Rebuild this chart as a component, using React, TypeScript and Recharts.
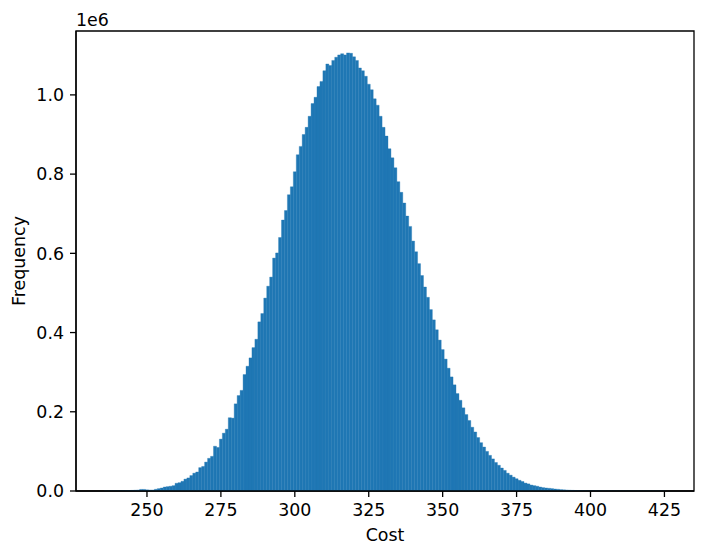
import { BarChart, Bar, XAxis, YAxis, Label, ReferenceArea } from 'recharts';

// histogram bins are 1 unit wide, centred on integer costs 236..425
const firstBin = 236;
const frequencies = [
    100, 150, 200, 300, 400, 550, 700, 900, 1200, 1500, // 236
    2000, 2500, 4000, 4000, 3000, 2500, 2500, 4300, 6000, 7600, // 246
    10000, 11000, 12000, 13500, 19500, 21000, 24500, 30000, 33000, 39000, // 256
    45000, 48000, 59000, 62000, 73000, 82500, 87500, 113000, 110000, 131000, // 266
    146000, 156000, 185000, 184000, 220000, 241000, 254000, 294000, 315000, 336000, // 276
    362000, 383000, 427000, 448000, 487000, 517000, 540000, 588000, 601000, 640000, // 286
    684000, 708000, 748000, 768000, 806000, 849000, 870000, 900000, 918000, 946000, // 296
    978000, 994000, 1021000, 1034000, 1061000, 1078000, 1074000, 1087000, 1095000, 1101000, // 306
    1104000, 1101000, 1106000, 1105000, 1096000, 1087000, 1068000, 1061000, 1047000, 1027000, // 316
    1013000, 990000, 974000, 946000, 918000, 896000, 864000, 841000, 816000, 781000, // 326
    754000, 727000, 694000, 668000, 631000, 604000, 574000, 544000, 515000, 489000, // 336
    458000, 432000, 407000, 381000, 357000, 333000, 310000, 288000, 268000, 246000, // 346
    229000, 210000, 193000, 178000, 161000, 149000, 135000, 122000, 111000, 100000, // 356
    90000, 81000, 72000, 65000, 58000, 52000, 45000, 40000, 35000, 31000, // 366
    27000, 24000, 20000, 18000, 15000, 13500, 12000, 10000, 8500, 7600, // 376
    6800, 6000, 5000, 4300, 3500, 3000, 2500, 2000, 1600, 1300, // 386
    1000, 800, 600, 500, 400, 300, 250, 200, 150, 120, // 396
    100, 80, 60, 50, 40, 30, 25, 20, 15, 12, // 406
    10, 8, 6, 5, 4, 3, 2, 2, 1, 1, // 416
];

const xTicks = [250, 275, 300, 325, 350, 375, 400, 425];
const yTicks = [0, 200000, 400000, 600000, 800000, 1000000];
const xDomain = [226, 435];
const yDomain = [0, 1161300];

const histData = frequencies.map((f, i) => ({ cost: firstBin + i, freq: f }));

const FONT = '"DejaVu Sans", sans-serif';
const FS = 17.4;
const tickStyle = { fill: '#000', fontSize: FS, fontFamily: FONT };
const axisLine = { stroke: '#000', strokeWidth: 1.3 };

export default function App() {
    return (
        <div style={{ position: 'absolute', left: 0, top: 0, background: '#fff' }}>
            <BarChart
                width={706}
                height={556}
                data={histData}
                margin={{ top: 31, right: 12, bottom: 0, left: 0 }}
                barCategoryGap={0}
                barGap={0}
            >
                <XAxis
                    dataKey="cost"
                    type="number"
                    domain={xDomain}
                    ticks={xTicks}
                    allowDataOverflow
                    height={65}
                    tickSize={6}
                    tickMargin={7}
                    tick={tickStyle}
                    axisLine={axisLine}
                    tickLine={axisLine}
                >
                    <Label
                        content={() => (
                            <text x={385} y={541} textAnchor="middle" fontSize={FS} fontFamily={FONT} fill="#000">
                                Cost
                            </text>
                        )}
                    />
                </XAxis>
                <YAxis
                    type="number"
                    domain={yDomain}
                    ticks={yTicks}
                    allowDataOverflow
                    width={76}
                    tickSize={6}
                    tickMargin={6}
                    tick={tickStyle}
                    tickFormatter={(v: number) => (v / 1e6).toFixed(1)}
                    axisLine={axisLine}
                    tickLine={axisLine}
                >
                    <Label
                        content={() => (
                            <g>
                                <text
                                    transform="translate(25, 261) rotate(-90)"
                                    textAnchor="middle"
                                    fontSize={FS}
                                    fontFamily={FONT}
                                    fill="#000"
                                >
                                    Frequency
                                </text>
                                <text x={76} y={26} fontSize={FS} fontFamily={FONT} fill="#000">
                                    1e6
                                </text>
                            </g>
                        )}
                    />
                </YAxis>
                <Bar dataKey="freq" fill="#1f77b4" stroke="#1f77b4" strokeWidth={0.35} isAnimationActive={false} />
                {/* plot frame (top and right spines) */}
                <ReferenceArea
                    x1={xDomain[0]}
                    x2={xDomain[1]}
                    y1={yDomain[0]}
                    y2={yDomain[1]}
                    fill="none"
                    fillOpacity={0}
                    stroke="#000"
                    strokeWidth={1.3}
                    strokeOpacity={1}
                    ifOverflow="visible"
                />
            </BarChart>
        </div>
    );
}
